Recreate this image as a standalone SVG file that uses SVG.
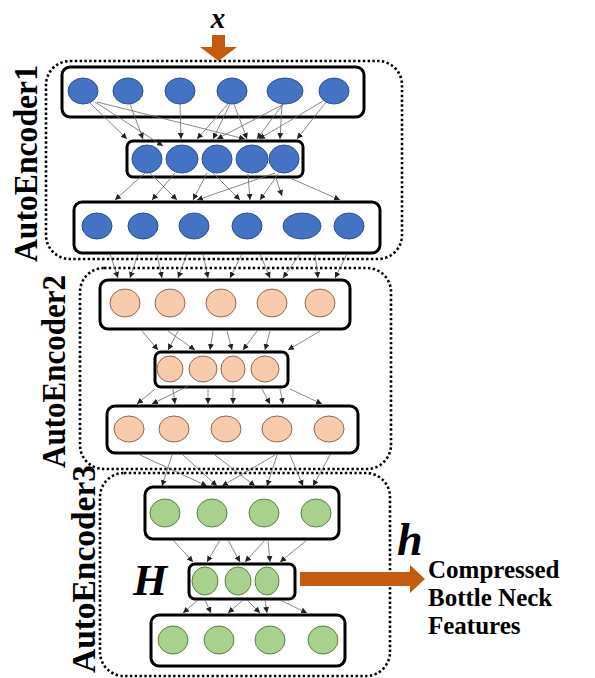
<svg xmlns="http://www.w3.org/2000/svg" width="595" height="678" viewBox="0 0 595 678">
  <style>
    .ae { fill: none; stroke: #000; stroke-width: 2.6; stroke-dasharray: 2.4 2.4; }
    .layer { fill: #fff; stroke: #000; stroke-width: 3; }
    .blue { fill: #4472C4; stroke: #2F528F; stroke-width: 1; }
    .peach { fill: #F8CBAD; stroke: #8C6A52; stroke-width: 1; }
    .green { fill: #A9D18E; stroke: #5E7F48; stroke-width: 1; }
    .lbl { font-family: "Liberation Serif", "Times New Roman", serif; font-weight: bold; fill: #000; }
    .ital { font-style: italic; }
    .conn line { stroke: #6a6a6a; stroke-width: 0.8; marker-end: url(#tip); }
    .orange { fill: #C55A11; }
  </style>
  <defs>
    <marker id="tip" markerUnits="userSpaceOnUse" markerWidth="6" markerHeight="6" refX="6" refY="3" orient="auto">
      <path d="M0,0 L6,3 L0,6 z" fill="#222"/>
    </marker>
  </defs>

  <rect width="595" height="678" fill="#fff"/>

  <!-- autoencoder groupings -->
  <g id="autoencoder1">
    <rect class="ae" x="46" y="61" width="356" height="198" rx="24"/>
    <text class="lbl" font-size="33" transform="translate(37,262) rotate(-90)" textLength="197" lengthAdjust="spacingAndGlyphs">AutoEncoder1</text>
  </g>
  <g id="autoencoder2">
    <rect class="ae" x="80" y="268" width="311" height="201" rx="24"/>
    <text class="lbl" font-size="33" transform="translate(65,468) rotate(-90)" textLength="193" lengthAdjust="spacingAndGlyphs">AutoEncoder2</text>
  </g>
  <g id="autoencoder3">
    <rect class="ae" x="100" y="473" width="290" height="203" rx="24"/>
    <text class="lbl" font-size="33" transform="translate(95,673) rotate(-90)" textLength="208" lengthAdjust="spacingAndGlyphs">AutoEncoder3</text>
  </g>

  <!-- input x -->
  <g id="input">
    <text class="lbl ital" font-size="29" x="218" y="28" text-anchor="middle">x</text>
    <polygon class="orange" points="212,35 225,35 225,47 237,47 218.5,61 200,47 212,47"/>
  </g>

  <!-- AutoEncoder1 layers -->
  <g id="ae1-input">
    <rect class="layer" x="62" y="67" width="302" height="50" rx="8"/>
    <ellipse class="blue" cx="83" cy="91" rx="15" ry="13"/>
    <ellipse class="blue" cx="128" cy="91" rx="15" ry="13"/>
    <ellipse class="blue" cx="180" cy="91" rx="15" ry="13"/>
    <ellipse class="blue" cx="232" cy="91" rx="15" ry="13"/>
    <ellipse class="blue" cx="285" cy="91" rx="18" ry="13"/>
    <ellipse class="blue" cx="334" cy="91" rx="15" ry="13"/>
  </g>
  <g id="ae1-hidden">
    <rect class="layer" x="127" y="141" width="176" height="36" rx="6"/>
    <ellipse class="blue" cx="147" cy="159" rx="15" ry="14"/>
    <ellipse class="blue" cx="182" cy="159" rx="16" ry="14"/>
    <ellipse class="blue" cx="217" cy="159" rx="15" ry="14"/>
    <ellipse class="blue" cx="252" cy="159" rx="16" ry="14"/>
    <ellipse class="blue" cx="284" cy="159" rx="15" ry="14"/>
  </g>
  <g id="ae1-output">
    <rect class="layer" x="74" y="202" width="306" height="51" rx="8"/>
    <ellipse class="blue" cx="97" cy="226" rx="15" ry="13"/>
    <ellipse class="blue" cx="143" cy="226" rx="15" ry="13"/>
    <ellipse class="blue" cx="194" cy="226" rx="15" ry="13"/>
    <ellipse class="blue" cx="247" cy="226" rx="15" ry="13"/>
    <ellipse class="blue" cx="302" cy="226" rx="19" ry="13"/>
    <ellipse class="blue" cx="349" cy="226" rx="15" ry="13"/>
  </g>

  <!-- AutoEncoder2 layers -->
  <g id="ae2-input">
    <rect class="layer" x="100" y="280" width="250" height="49" rx="8"/>
    <ellipse class="peach" cx="125" cy="303" rx="15" ry="14"/>
    <ellipse class="peach" cx="170" cy="303" rx="15" ry="14"/>
    <ellipse class="peach" cx="221" cy="303" rx="15" ry="14"/>
    <ellipse class="peach" cx="272" cy="303" rx="15" ry="14"/>
    <ellipse class="peach" cx="320" cy="303" rx="15" ry="14"/>
  </g>
  <g id="ae2-hidden">
    <rect class="layer" x="155" y="352" width="133" height="35" rx="6"/>
    <ellipse class="peach" cx="170" cy="369" rx="13" ry="13"/>
    <ellipse class="peach" cx="203" cy="369" rx="14" ry="13"/>
    <ellipse class="peach" cx="233" cy="369" rx="12" ry="13"/>
    <ellipse class="peach" cx="265" cy="369" rx="14" ry="13"/>
  </g>
  <g id="ae2-output">
    <rect class="layer" x="107" y="406" width="251" height="47" rx="8"/>
    <ellipse class="peach" cx="129" cy="429" rx="15" ry="13"/>
    <ellipse class="peach" cx="174" cy="429" rx="15" ry="13"/>
    <ellipse class="peach" cx="226" cy="429" rx="15" ry="13"/>
    <ellipse class="peach" cx="277" cy="429" rx="15" ry="13"/>
    <ellipse class="peach" cx="329" cy="429" rx="15" ry="13"/>
  </g>

  <!-- AutoEncoder3 layers -->
  <g id="ae3-input">
    <rect class="layer" x="145" y="487" width="194" height="52" rx="8"/>
    <ellipse class="green" cx="165" cy="513" rx="15" ry="14"/>
    <ellipse class="green" cx="212" cy="513" rx="15" ry="14"/>
    <ellipse class="green" cx="264" cy="513" rx="15" ry="14"/>
    <ellipse class="green" cx="316" cy="513" rx="15" ry="14"/>
  </g>
  <g id="ae3-bottleneck">
    <rect class="layer" x="189" y="564" width="106" height="35" rx="6"/>
    <ellipse class="green" cx="205" cy="581" rx="13" ry="14"/>
    <ellipse class="green" cx="238" cy="581" rx="13" ry="14"/>
    <ellipse class="green" cx="267" cy="581" rx="12" ry="14"/>
    <text class="lbl ital" font-size="44" x="133" y="595">H</text>
  </g>
  <g id="ae3-output">
    <rect class="layer" x="151" y="615" width="194" height="51" rx="8"/>
    <ellipse class="green" cx="173" cy="640" rx="15" ry="14"/>
    <ellipse class="green" cx="219" cy="640" rx="15" ry="14"/>
    <ellipse class="green" cx="270" cy="640" rx="15" ry="14"/>
    <ellipse class="green" cx="323" cy="640" rx="15" ry="14"/>
  </g>

  <!-- bottleneck output -->
  <g id="features">
    <polygon class="orange" points="300,572 410,572 410,565 425,579 410,593 410,586 300,586"/>
    <text class="lbl ital" font-size="46" x="397" y="555">h</text>
    <text class="lbl" font-size="25" x="428" y="578">Compressed</text>
    <text class="lbl" font-size="25" x="428" y="606">Bottle Neck</text>
    <text class="lbl" font-size="25" x="428" y="634">Features</text>
  </g>

  <!-- weighted connections between layers -->
  <g id="connectors" class="conn">
    <!-- AE1 input -> hidden -->
    <line x1="90" y1="103" x2="127" y2="139"/>
    <line x1="95" y1="102" x2="163" y2="146"/>
    <line x1="97" y1="102" x2="245" y2="139"/>
    <line x1="130" y1="104" x2="143" y2="139"/>
    <line x1="180" y1="104" x2="181" y2="139"/>
    <line x1="228" y1="104" x2="197" y2="139"/>
    <line x1="230" y1="104" x2="213" y2="139"/>
    <line x1="234" y1="104" x2="247" y2="139"/>
    <line x1="284" y1="104" x2="217" y2="139"/>
    <line x1="283" y1="104" x2="257" y2="139"/>
    <line x1="282" y1="104" x2="280" y2="139"/>
    <line x1="323" y1="101" x2="259" y2="139"/>
    <line x1="326" y1="102" x2="297" y2="139"/>
    <!-- AE1 hidden -> output -->
    <line x1="145" y1="173" x2="115" y2="200"/>
    <line x1="150" y1="173" x2="177" y2="200"/>
    <line x1="175" y1="173" x2="152" y2="200"/>
    <line x1="207" y1="173" x2="193" y2="200"/>
    <line x1="213" y1="173" x2="240" y2="200"/>
    <line x1="248" y1="174" x2="250" y2="200"/>
    <line x1="275" y1="173" x2="197" y2="200"/>
    <line x1="278" y1="174" x2="260" y2="200"/>
    <line x1="276" y1="178" x2="282" y2="196"/>
    <line x1="290" y1="178" x2="340" y2="200"/>
    <!-- AE1 output -> AE2 input -->
    <line x1="110" y1="254" x2="118" y2="278"/>
    <line x1="138" y1="254" x2="130" y2="278"/>
    <line x1="157" y1="254" x2="162" y2="278"/>
    <line x1="187" y1="254" x2="178" y2="278"/>
    <line x1="203" y1="254" x2="208" y2="278"/>
    <line x1="242" y1="254" x2="230" y2="278"/>
    <line x1="260" y1="254" x2="270" y2="278"/>
    <line x1="300" y1="254" x2="283" y2="278"/>
    <line x1="315" y1="254" x2="318" y2="278"/>
    <line x1="347" y1="254" x2="335" y2="278"/>
    <!-- AE2 input -> hidden -->
    <line x1="142" y1="331" x2="158" y2="350"/>
    <line x1="178" y1="331" x2="168" y2="350"/>
    <line x1="168" y1="331" x2="195" y2="350"/>
    <line x1="213" y1="331" x2="210" y2="350"/>
    <line x1="227" y1="331" x2="232" y2="350"/>
    <line x1="257" y1="331" x2="243" y2="350"/>
    <line x1="270" y1="331" x2="265" y2="350"/>
    <line x1="320" y1="331" x2="288" y2="350"/>
    <!-- AE2 hidden -> output -->
    <line x1="155" y1="389" x2="137" y2="404"/>
    <line x1="190" y1="385" x2="152" y2="404"/>
    <line x1="173" y1="389" x2="175" y2="404"/>
    <line x1="208" y1="389" x2="208" y2="404"/>
    <line x1="233" y1="389" x2="233" y2="404"/>
    <line x1="262" y1="389" x2="270" y2="404"/>
    <line x1="280" y1="389" x2="283" y2="404"/>
    <line x1="290" y1="389" x2="322" y2="404"/>
    <!-- AE2 output -> AE3 input -->
    <line x1="140" y1="455" x2="207" y2="486"/>
    <line x1="172" y1="455" x2="162" y2="486"/>
    <line x1="183" y1="455" x2="217" y2="486"/>
    <line x1="215" y1="455" x2="255" y2="486"/>
    <line x1="275" y1="455" x2="222" y2="486"/>
    <line x1="277" y1="455" x2="267" y2="486"/>
    <line x1="290" y1="455" x2="303" y2="486"/>
    <line x1="330" y1="455" x2="313" y2="486"/>
    <!-- AE3 input -> bottleneck -->
    <line x1="173" y1="540" x2="193" y2="562"/>
    <line x1="220" y1="540" x2="207" y2="562"/>
    <line x1="228" y1="540" x2="240" y2="562"/>
    <line x1="265" y1="540" x2="245" y2="562"/>
    <line x1="268" y1="540" x2="270" y2="562"/>
    <line x1="307" y1="540" x2="280" y2="562"/>
    <!-- bottleneck -> AE3 output -->
    <line x1="198" y1="600" x2="183" y2="613"/>
    <line x1="205" y1="600" x2="211" y2="613"/>
    <line x1="243" y1="600" x2="228" y2="613"/>
    <line x1="247" y1="600" x2="260" y2="613"/>
    <line x1="265" y1="600" x2="267" y2="613"/>
    <line x1="280" y1="600" x2="307" y2="613"/>
  </g>
</svg>
